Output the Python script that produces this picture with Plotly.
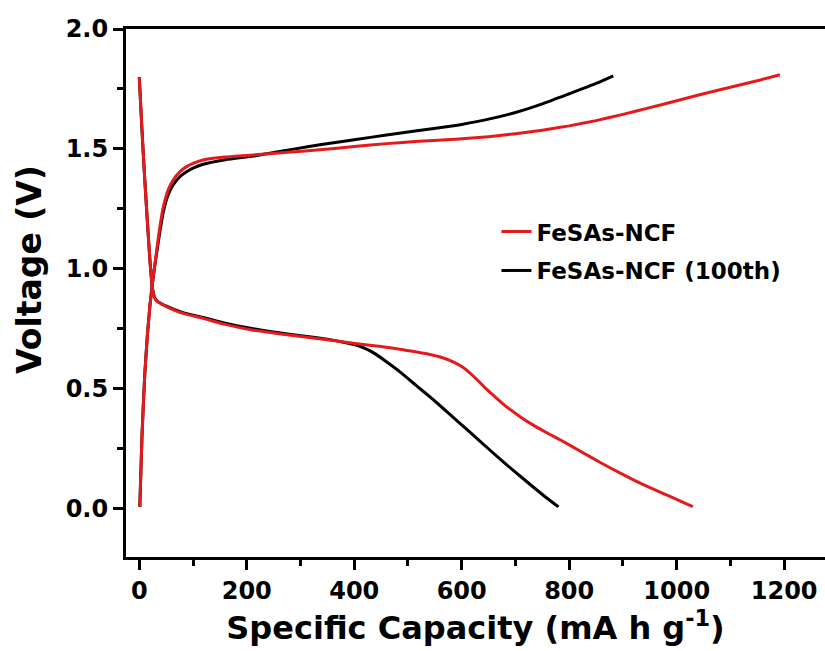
import plotly.graph_objects as go

# ---- data ----
# First cycle (red) discharge
red_dis_x = [0, 5, 10, 15, 20, 24, 27, 32, 40, 57, 80, 119, 160, 212, 260, 305, 350, 398, 450, 491, 530, 560, 584, 600, 615, 630, 645, 660, 683, 710, 733, 760, 783, 820, 857, 895, 932, 980, 1010, 1030]
red_dis_y = [1.80, 1.58, 1.38, 1.20, 1.03, 0.93, 0.89, 0.868, 0.855, 0.835, 0.815, 0.793, 0.768, 0.744, 0.729, 0.717, 0.704, 0.689, 0.676, 0.662, 0.648, 0.632, 0.612, 0.592, 0.566, 0.534, 0.500, 0.470, 0.425, 0.381, 0.348, 0.314, 0.287, 0.240, 0.193, 0.148, 0.106, 0.058, 0.028, 0.008]
# First cycle (red) charge
red_chg_x = [1, 5, 10, 15, 20, 24, 28, 32, 38, 45, 54, 63, 76, 88, 100, 119, 160, 212, 270, 336, 400, 460, 520, 578, 600, 650, 700, 750, 800, 850, 900, 950, 1000, 1050, 1100, 1150, 1192]
red_chg_y = [0.007, 0.30, 0.55, 0.72, 0.85, 0.93, 1.00, 1.07, 1.17, 1.26, 1.33, 1.37, 1.405, 1.426, 1.440, 1.454, 1.466, 1.475, 1.485, 1.496, 1.510, 1.522, 1.532, 1.539, 1.542, 1.551, 1.563, 1.578, 1.596, 1.618, 1.644, 1.672, 1.701, 1.730, 1.757, 1.784, 1.809]
# 100th cycle (black) discharge
blk_dis_x = [0, 5, 10, 15, 20, 24, 27, 32, 40, 57, 80, 119, 160, 212, 260, 305, 350, 380, 400, 420, 440, 460, 485, 515, 547, 578, 609, 640, 671, 702, 733, 760, 780]
blk_dis_y = [1.80, 1.58, 1.38, 1.20, 1.03, 0.93, 0.89, 0.868, 0.855, 0.838, 0.818, 0.797, 0.773, 0.750, 0.733, 0.720, 0.706, 0.694, 0.684, 0.668, 0.644, 0.612, 0.570, 0.514, 0.454, 0.393, 0.331, 0.269, 0.207, 0.148, 0.090, 0.041, 0.007]
# 100th cycle (black) charge
blk_chg_x = [1, 5, 10, 15, 20, 24, 28, 32, 38, 45, 54, 63, 76, 88, 100, 119, 160, 212, 243, 290, 336, 400, 460, 520, 578, 600, 650, 700, 750, 800, 850, 882]
blk_chg_y = [0.007, 0.30, 0.55, 0.72, 0.85, 0.93, 1.00, 1.06, 1.15, 1.24, 1.31, 1.35, 1.385, 1.405, 1.420, 1.436, 1.455, 1.470, 1.482, 1.500, 1.517, 1.538, 1.558, 1.577, 1.594, 1.602, 1.624, 1.652, 1.688, 1.730, 1.773, 1.805]

series_names = ["FeSAs-NCF", "FeSAs-NCF (100th)"]
series_colors = ["#e41a1c", "#000000"]

x_ticks = [0, 200, 400, 600, 800, 1000, 1200]
y_ticks = [0.0, 0.5, 1.0, 1.5, 2.0]
y_tick_text = ["0.0", "0.5", "1.0", "1.5", "2.0"]

fig = go.Figure()

LW = 3
# black (100th) first, red on top
for xs, ys, show in [(blk_dis_x, blk_dis_y, True), (blk_chg_x, blk_chg_y, False)]:
    fig.add_trace(go.Scatter(x=xs, y=ys, mode="lines", name=series_names[1],
                             line=dict(color=series_colors[1], width=LW, shape="spline", smoothing=0.5),
                             legendgroup="b", showlegend=show, legendrank=2))
for xs, ys, show in [(red_dis_x, red_dis_y, True), (red_chg_x, red_chg_y, False)]:
    fig.add_trace(go.Scatter(x=xs, y=ys, mode="lines", name=series_names[0],
                             line=dict(color=series_colors[0], width=LW, shape="spline", smoothing=0.5),
                             legendgroup="a", showlegend=show, legendrank=1))

FONT = "DejaVu Sans, Liberation Sans, Arial, sans-serif"

fig.update_layout(
    width=825, height=651,
    margin=dict(l=126, r=0, t=29, b=94),
    paper_bgcolor="white", plot_bgcolor="white",
    font=dict(family=FONT, color="black"),
    legend=dict(x=0.530, y=0.657, xanchor="left", yanchor="top",
                font=dict(family=FONT, size=23, weight="bold", color="black"),
                bgcolor="rgba(0,0,0,0)", tracegroupgap=6, itemwidth=30),
    showlegend=True,
    annotations=[dict(text="Voltage (V)", textangle=-90, xref="paper", yref="paper",
                      x=-0.137, y=0.544, xanchor="center", yanchor="middle", showarrow=False,
                      font=dict(family=FONT, size=33, weight="bold", color="black"))],
)

fig.update_xaxes(
    range=[-24.7, 1276], tickmode="array", tickvals=x_ticks,
    ticks="outside", ticklen=10, tickwidth=3, tickcolor="black",
    minor=dict(dtick=100, tick0=0, ticks="outside", ticklen=6, tickwidth=3, tickcolor="black"),
    showline=True, linewidth=3, linecolor="black", mirror=True,
    showgrid=False, zeroline=False,
    tickfont=dict(family=FONT, size=24, weight="bold", color="black"),
    title=dict(text="Specific Capacity (mA h g<sup>-1</sup>)",
               font=dict(family=FONT, size=32, weight="bold", color="black"), standoff=4),
)
fig.update_yaxes(
    range=[-0.202, 2.0], tickmode="array", tickvals=y_ticks, ticktext=y_tick_text,
    ticks="outside", ticklen=10, tickwidth=3, tickcolor="black",
    minor=dict(dtick=0.25, tick0=0, ticks="outside", ticklen=6, tickwidth=3, tickcolor="black"),
    showline=True, linewidth=3, linecolor="black", mirror=False,
    showgrid=False, zeroline=False,
    tickfont=dict(family=FONT, size=24, weight="bold", color="black"),
)

fig.write_html("out.html")
